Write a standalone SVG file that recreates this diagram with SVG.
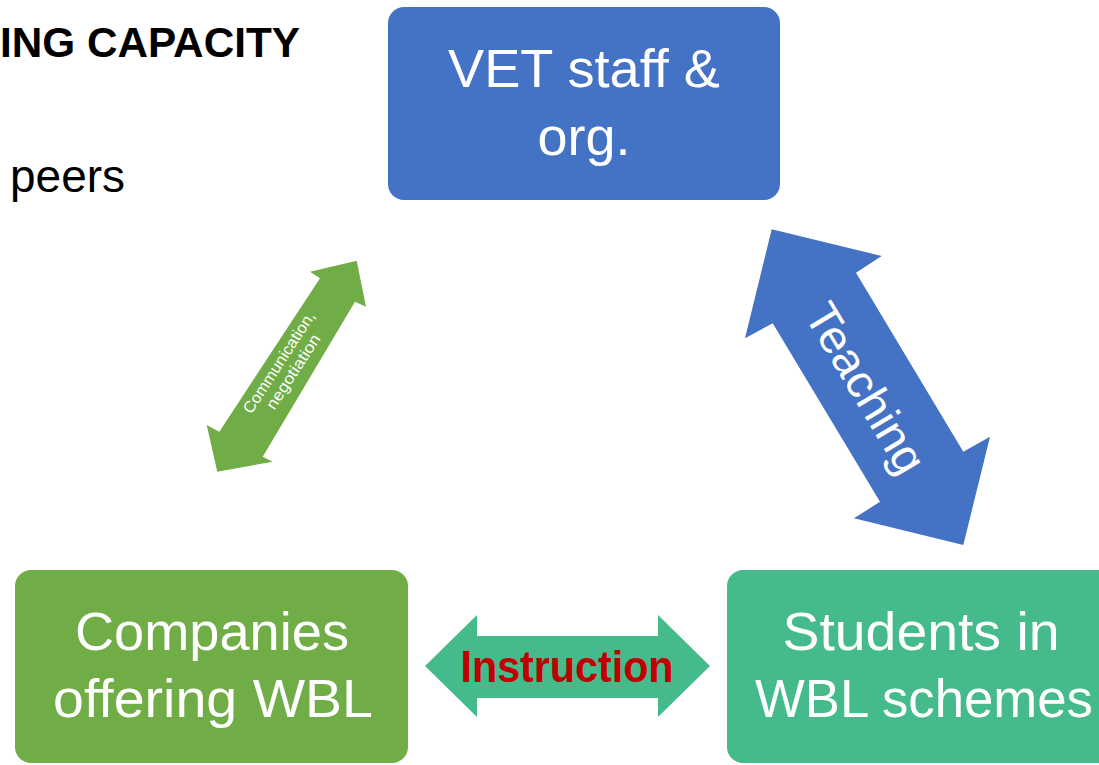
<svg xmlns="http://www.w3.org/2000/svg" width="1099" height="765" viewBox="0 0 1099 765">
<style>
.node-text{font-family:"Liberation Sans",Arial,sans-serif;font-size:54px;fill:#ffffff;text-anchor:middle}
.hdr{font-family:"Liberation Sans",Arial,sans-serif;fill:#000000}
</style>
<rect width="1099" height="765" fill="#ffffff"/>
<text class="hdr" x="0" y="57" font-size="43" font-weight="bold" textLength="300" lengthAdjust="spacingAndGlyphs">ING CAPACITY</text>
<text class="hdr" x="10" y="192" font-size="46" textLength="115" lengthAdjust="spacingAndGlyphs">peers</text>
<g id="connectors">
<g id="communication">
<polygon points="356.7,260.7 366,306.7 355,301.7 262.7,456.7 272.7,461.7 217.3,471.7 206.7,425 219.3,431.7 320,278.3 310,271.7" fill="#70AD47"/>
<g transform="translate(286,367) rotate(-57)" font-family="Liberation Sans,Arial,sans-serif" font-size="16" fill="#ffffff" text-anchor="middle">
<text x="0" y="-3" textLength="118" lengthAdjust="spacingAndGlyphs">Communication,</text>
<text x="0" y="14" textLength="86" lengthAdjust="spacingAndGlyphs">negotiation</text>
</g>
</g>
<g id="teaching">
<polygon points="771.7,229.3 881.7,256 856,272.7 963.3,451.7 990,436.7 963.3,545 854,518.3 880,501.7 772.7,323.3 745,338.3" fill="#4472C4"/>
<text transform="translate(866,388) rotate(59)" x="0" y="16" font-family="Liberation Sans,Arial,sans-serif" font-size="46" fill="#ffffff" text-anchor="middle" textLength="190" lengthAdjust="spacingAndGlyphs">Teaching</text>
</g>
<g id="instruction">
<polygon points="425,666 477,615 477,636 658,636 658,615 710,666 658,717 658,698 477,698 477,717" fill="#45BB8C"/>
<text x="567" y="682" font-family="Liberation Sans,Arial,sans-serif" font-size="44" font-weight="bold" fill="#C00000" text-anchor="middle" textLength="213" lengthAdjust="spacingAndGlyphs">Instruction</text>
</g>
</g>
<g id="vet">
<rect x="388" y="7" width="392" height="193" rx="16" fill="#4472C4"/>
<text class="node-text" x="584" y="87" textLength="272" lengthAdjust="spacingAndGlyphs">VET staff &amp;</text>
<text class="node-text" x="584" y="155">org.</text>
</g>
<g id="companies">
<rect x="15" y="570" width="393" height="193" rx="16" fill="#70AD47"/>
<text class="node-text" x="212" y="650" textLength="274" lengthAdjust="spacingAndGlyphs">Companies</text>
<text class="node-text" x="213" y="717" textLength="320" lengthAdjust="spacingAndGlyphs">offering WBL</text>
</g>
<g id="students">
<rect x="727" y="570" width="400" height="193" rx="16" fill="#45BB8C"/>
<text class="node-text" x="921" y="650" textLength="277" lengthAdjust="spacingAndGlyphs">Students in</text>
<text class="node-text" x="924" y="717" textLength="338" lengthAdjust="spacingAndGlyphs">WBL schemes</text>
</g>
</svg>
